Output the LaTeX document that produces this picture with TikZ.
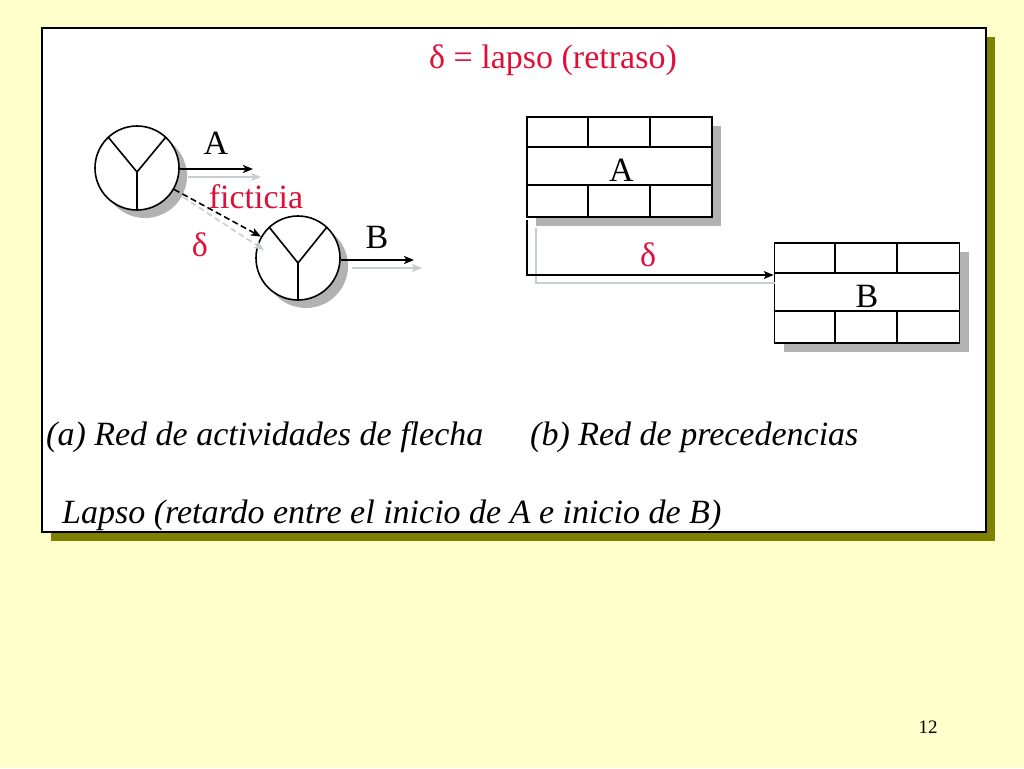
\documentclass[tikz,border=0pt]{standalone}
\usepackage{fontspec}
\setmainfont{Liberation Serif}
\usetikzlibrary{arrows.meta,calc}
\definecolor{bgyellow}{RGB}{255,255,204}
\definecolor{olivesh}{RGB}{128,128,0}
\definecolor{redtxt}{RGB}{222,16,58}
\definecolor{shgray}{RGB}{178,178,178}
\definecolor{ghost}{RGB}{200,205,205}
\tikzset{
  big/.style={font=\fontsize{34}{38}\selectfont, inner sep=0pt},
  redlbl/.style={big, text=redtxt},
  evt/.style={circle, draw=black, line width=1.6pt, fill=white, minimum size=84pt, inner sep=0pt},
  evtsh/.style={circle, fill=shgray, minimum size=84pt, inner sep=0pt},
  actbox/.style={rectangle, draw=black, line width=1.6pt, fill=white, minimum width=185pt, minimum height=100pt, inner sep=0pt},
  actsh/.style={rectangle, fill=shgray, minimum width=185pt, minimum height=100pt, inner sep=0pt},
  inner/.style={line width=1.6pt},
  arr/.style={line width=1.6pt, -{Stealth[length=10pt,width=8pt,inset=2.5pt]}},
  ghostarr/.style={line width=1.6pt, draw=ghost, -{Stealth[length=10pt,width=8pt,inset=2.5pt]}},
  dsh/.style={dash pattern=on 6pt off 3.5pt},
}
\begin{document}
\begin{tikzpicture}[x=1pt,y=-1pt]
\useasboundingbox (0,0) rectangle (1024,768);
\fill[bgyellow] (0,0) rectangle (1024,768);
% frame
\fill[olivesh] (51,37) rectangle (995,541);
\filldraw[fill=white, draw=black, line width=1.4pt] (42,28) rectangle (986,532);
% title
\node[redlbl] (title) at (553,60) {δ = lapso (retraso)};
% ---- left: arrow network
\node[evtsh] (c1s) at (145,176) {};
\node[evt] (c1) at (137,168) {};
\coordinate (v1) at (137,172);
\draw[inner] (c1.133) -- (v1) -- (c1.47);
\draw[inner] (v1) -- (c1.270);
\node[evtsh] (c2s) at (306,266) {};
\node[evt] (c2) at (298,258) {};
\coordinate (v2) at (298,263);
\draw[inner] (c2.133) -- (v2) -- (c2.47);
\draw[inner] (v2) -- (c2.270);
% arrow A
\coordinate (aend) at (253,169);
\coordinate (agst) at (188,177);
\coordinate (agend) at (261,177);
\draw[ghostarr] (agst) -- (agend);
\draw[arr] (c1.east |- aend) -- (aend);
\node[big] (lblA) at (216,143) {A};
% dashed fictitious
\coordinate (dgst) at (183,197);
\coordinate (dgend) at (264,250);
\draw[ghostarr, dsh] (dgst) -- (dgend);
\draw[arr, dsh] (c1.-30) -- (c2.150);
\node[redlbl] (fict) at (256,197) {ficticia};
\node[redlbl] (d1) at (200,245) {δ};
% arrow B
\coordinate (bend) at (414,260);
\coordinate (bgst) at (352,268);
\coordinate (bgend) at (422,268);
\draw[ghostarr] (bgst) -- (bgend);
\draw[arr] (c2.east |- bend) -- (bend);
\node[big] (lblB) at (377,237) {B};
% ---- right: precedence network
\node[actsh] (bAs) at (628.5,176) {};
\node[actbox] (bA) at (619.5,167) {};
\draw[inner] ($(bA.west)+(0,-20)$) -- ($(bA.east)+(0,-20)$);
\draw[inner] ($(bA.west)+(0,18)$) -- ($(bA.east)+(0,18)$);
\draw[inner] ($(bA.north west)+(62,0)$) -- ++(0,30);
\draw[inner] ($(bA.north west)+(124,0)$) -- ++(0,30);
\draw[inner] ($(bA.south west)+(62,0)$) -- ++(0,-32);
\draw[inner] ($(bA.south west)+(124,0)$) -- ++(0,-32);
\node[big] at ($(bA.center)+(2,3)$) (tA) {A};
\node[actsh] (bBs) at (876,302) {};
\node[actbox] (bB) at (867,293) {};
\draw[inner] ($(bB.west)+(0,-20)$) -- ($(bB.east)+(0,-20)$);
\draw[inner] ($(bB.west)+(0,18)$) -- ($(bB.east)+(0,18)$);
\draw[inner] ($(bB.north west)+(61,0)$) -- ++(0,30);
\draw[inner] ($(bB.north west)+(123,0)$) -- ++(0,30);
\draw[inner] ($(bB.south west)+(61,0)$) -- ++(0,-32);
\draw[inner] ($(bB.south west)+(123,0)$) -- ++(0,-32);
\node[big] at ($(bB.center)+(0,3)$) (tB) {B};
% connector
\coordinate (pst) at (527,220);
\coordinate (pcor) at (527,275);
\coordinate (gst) at (536,228);
\coordinate (gcor) at (536,283);
\coordinate (gend) at (775,283);
\draw[line width=1.6pt, draw=ghost] (gst) -- (gcor) -- (gend);
\draw[arr] (pst) -- (pcor) -- (bB.west |- pcor);
\node[redlbl] (d2) at (648,255) {δ};
% captions
\node[big, anchor=west, font=\fontsize{34}{38}\itshape] (capa) at (46,437) {(a) Red de actividades de flecha};
\node[big, anchor=west, font=\fontsize{34}{38}\itshape] (capb) at (530,437) {(b) Red de precedencias};
\node[big, anchor=west, font=\fontsize{34}{38}\itshape] (capc) at (62,515) {Lapso (retardo entre el inicio de A e inicio de B)};
\node[font=\fontsize{19}{22}\selectfont, inner sep=0pt] (pg) at (928,727) {12};
\end{tikzpicture}
\end{document}
